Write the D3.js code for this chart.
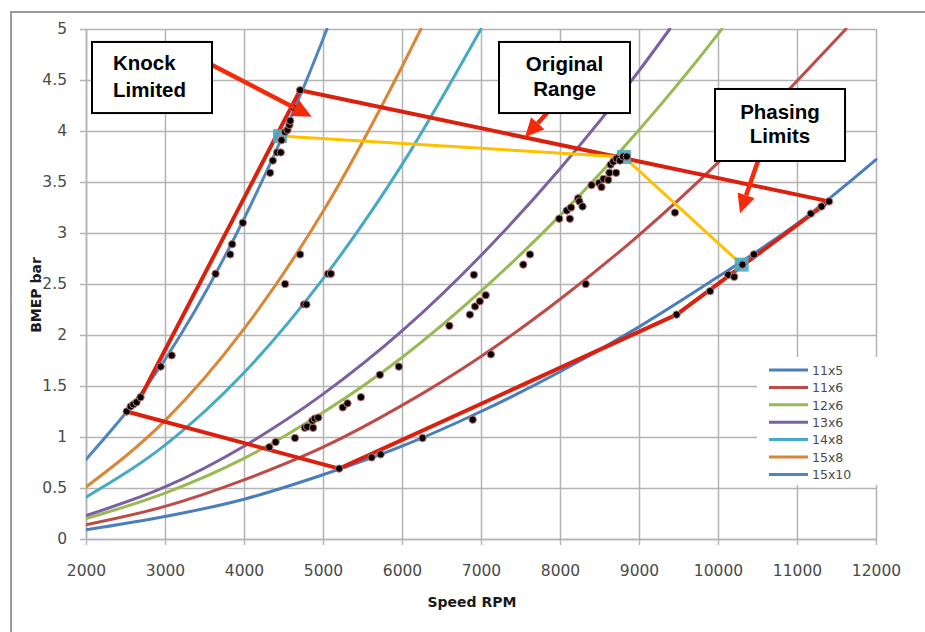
<!DOCTYPE html>
<html>
<head>
<meta charset="utf-8">
<script src="https://cdn.jsdelivr.net/npm/d3@7"></script>
<style>
  body { margin: 0; background: #fff; }
  svg { display: block; }
</style>
</head>
<body>
<svg id="chart" width="925" height="632"></svg>
<script>
// ---- Propeller load lines: BMEP (bar) vs engine speed (rpm) ----
const rpm11x5  = [2000, 3000, 4000, 5000, 6000, 7000, 8000, 9000, 10000, 11000, 12000];
const bmep11x5 = [0.09, 0.22, 0.39, 0.63, 0.91, 1.25, 1.64, 2.08, 2.57, 3.09, 3.72];

const rpm11x6  = [2000, 3000, 4000, 5000, 6000, 7000, 8000, 9000, 10000, 11000, 11620];
const bmep11x6 = [0.14, 0.32, 0.58, 0.90, 1.31, 1.79, 2.35, 2.98, 3.69, 4.49, 5.00];

const rpm12x6  = [2000, 3000, 4000, 5000, 6000, 7000, 8000, 9000, 10000, 10050];
const bmep12x6 = [0.20, 0.45, 0.79, 1.24, 1.78, 2.43, 3.17, 4.01, 4.95, 5.00];

const rpm13x6  = [2000, 3000, 4000, 5000, 6000, 7000, 8000, 9000, 9390];
const bmep13x6 = [0.23, 0.51, 0.91, 1.42, 2.04, 2.78, 3.63, 4.59, 5.00];

const rpm14x8  = [2000, 3000, 4000, 5000, 6000, 7000];
const bmep14x8 = [0.41, 0.92, 1.63, 2.55, 3.67, 5.00];

const rpm15x8  = [2000, 3000, 4000, 5000, 6000, 6240];
const bmep15x8 = [0.51, 1.16, 2.06, 3.21, 4.63, 5.00];

const rpm15x10  = [2000, 3000, 4000, 5000, 5050];
const bmep15x10 = [0.78, 1.76, 3.14, 4.90, 5.00];

const propNames = ["11x5", "11x6", "12x6", "13x6", "14x8", "15x8", "15x10"];

// ---- Measured operating points ----
const testRpm = [
  2515, 2565, 2600, 2640, 2690, 2945, 3085, 3640, 3825, 3850, 3985,
  4330, 4365, 4420, 4465, 4475, 4520, 4550, 4575, 4585, 4625, 4710,
  4520, 4710, 4760, 4790, 5065, 5100,
  4320, 4400, 4645, 4770, 4800, 4875, 4865, 4895, 4940, 5250, 5310, 5480, 5720, 5960,
  5205, 5615, 5730, 6260, 6895, 7125,
  6600, 6860, 6925, 6985, 7060, 6910, 7535, 7620, 8325,
  7990, 8125, 8085, 8140, 8230, 8245, 8285, 8400, 8495, 8525, 8550, 8610, 8625, 8710,
  8640, 8675, 8715, 8760, 8800, 8845,
  9455, 9475, 9900, 10130, 10205, 10310, 10455, 11175, 11310, 11405
];
const testBmep = [
  1.25, 1.30, 1.32, 1.34, 1.39, 1.69, 1.80, 2.60, 2.79, 2.89, 3.10,
  3.59, 3.71, 3.79, 3.79, 3.91, 3.99, 4.01, 4.06, 4.10, 4.23, 4.40,
  2.50, 2.79, 2.30, 2.30, 2.60, 2.60,
  0.90, 0.95, 0.99, 1.09, 1.10, 1.09, 1.16, 1.18, 1.19, 1.29, 1.33, 1.39, 1.61, 1.69,
  0.69, 0.80, 0.83, 0.99, 1.17, 1.81,
  2.09, 2.20, 2.28, 2.33, 2.39, 2.59, 2.69, 2.79, 2.50,
  3.14, 3.14, 3.22, 3.25, 3.34, 3.31, 3.26, 3.47, 3.49, 3.45, 3.53, 3.52, 3.59, 3.59,
  3.67, 3.70, 3.73, 3.71, 3.75, 3.75,
  3.20, 2.20, 2.43, 2.59, 2.57, 2.69, 2.79, 3.19, 3.26, 3.31
];

// ---- Operating envelope (red) and original range (yellow) ----
const envRpm  = [5205, 2515, 2690, 4710, 11405, 9475, 5205];
const envBmep = [0.69, 1.25, 1.39, 4.40, 3.31, 2.20, 0.69];

const origRpm  = [4455, 8810, 10300];
const origBmep = [3.95, 3.745, 2.69];

// ---- Axis ticks ----
const xTicks = [2000, 3000, 4000, 5000, 6000, 7000, 8000, 9000, 10000, 11000, 12000];
const yTicks = [0, 0.5, 1, 1.5, 2, 2.5, 3, 3.5, 4, 4.5, 5];

// ---- Callout text ----
const calloutLines = [["Knock", "Limited"], ["Original", "Range"], ["Phasing", "Limits"]];

// =====================================================================
const propColors = ["#4A7EBB", "#BE4B48", "#98B954", "#7D60A0", "#46AAC5", "#DB8636", "#4F86C2"];
const propSeries = [
  [rpm11x5, bmep11x5], [rpm11x6, bmep11x6], [rpm12x6, bmep12x6], [rpm13x6, bmep13x6],
  [rpm14x8, bmep14x8], [rpm15x8, bmep15x8], [rpm15x10, bmep15x10]
].map(([r, b], i) => ({
  name: propNames[i],
  color: propColors[i],
  points: r.map((v, j) => ({ rpm: v, bmep: b[j] }))
}));

const svg = d3.select("#chart");
const plotL = 86, plotR = 876, plotT = 29, plotB = 539;

const x = d3.scaleLinear().domain([2000, 12000]).range([plotL, plotR]);
const y = d3.scaleLinear().domain([0, 5]).range([plotB, plotT]);

// chart frame
svg.append("rect")
  .attr("x", 11).attr("y", 12).attr("width", 960).attr("height", 660)
  .attr("fill", "#fff").attr("stroke", "#9c9c9c").attr("stroke-width", 2);

const gridColor = "#b4b4b4";

// gridlines
const gridY = svg.append("g").attr("transform", `translate(${plotL},0)`)
  .call(d3.axisLeft(y).tickValues(yTicks).tickSize(-(plotR - plotL)).tickFormat(""));
const gridX = svg.append("g").attr("transform", `translate(0,${plotB})`)
  .call(d3.axisBottom(x).tickValues(xTicks).tickSize(-(plotB - plotT)).tickFormat(""));
[gridY, gridX].forEach(g => {
  g.select(".domain").remove();
  g.selectAll("line").attr("stroke", gridColor).attr("stroke-width", 1.5);
});

// axes with outward ticks and labels
const yAxis = svg.append("g").attr("transform", `translate(${plotL},0)`)
  .call(d3.axisLeft(y).tickValues(yTicks).tickSize(6).tickSizeOuter(0).tickPadding(13)
    .tickFormat(d => String(d)));
const xAxis = svg.append("g").attr("transform", `translate(0,${plotB})`)
  .call(d3.axisBottom(x).tickValues(xTicks).tickSize(6).tickSizeOuter(0).tickPadding(20)
    .tickFormat(d3.format("d")));
[yAxis, xAxis].forEach(g => {
  g.select(".domain").attr("stroke", gridColor).attr("stroke-width", 1.5);
  g.selectAll("line").attr("stroke", gridColor).attr("stroke-width", 1.5);
  g.selectAll("text")
    .attr("font-family", "DejaVu Sans, sans-serif")
    .attr("font-size", 15.5)
    .attr("fill", "#4a4a4a");
});

// axis titles
svg.append("text")
  .attr("x", 472).attr("y", 607)
  .attr("text-anchor", "middle")
  .attr("font-family", "DejaVu Sans, sans-serif").attr("font-weight", "bold")
  .attr("font-size", 14).attr("fill", "#1a1a1a")
  .text("Speed RPM");
svg.append("text")
  .attr("transform", "translate(41,295) rotate(-90)")
  .attr("text-anchor", "middle")
  .attr("font-family", "DejaVu Sans, sans-serif").attr("font-weight", "bold")
  .attr("font-size", 14).attr("fill", "#1a1a1a")
  .text("BMEP bar");

// clip curves to plot area
svg.append("clipPath").attr("id", "plot-clip")
  .append("rect").attr("x", plotL).attr("y", plotT - 1).attr("width", plotR - plotL + 2).attr("height", plotB - plotT + 2);

const line = d3.line()
  .x(d => x(d.rpm)).y(d => y(d.bmep))
  .curve(d3.curveMonotoneX);

const plot = svg.append("g").attr("clip-path", "url(#plot-clip)");

plot.selectAll("path.prop")
  .data(propSeries)
  .join("path")
  .attr("class", "prop")
  .attr("d", d => line(d.points))
  .attr("fill", "none")
  .attr("stroke", d => d.color)
  .attr("stroke-width", 3)
  .attr("stroke-linecap", "round");

// envelope polygon
const straight = d3.line().x(d => x(d.rpm)).y(d => y(d.bmep));
const envPts = envRpm.map((r, i) => ({ rpm: r, bmep: envBmep[i] }));
svg.append("path")
  .attr("d", straight(envPts))
  .attr("fill", "none")
  .attr("stroke", "#DA200E")
  .attr("stroke-width", 4)
  .attr("stroke-linejoin", "round");

// original operating range
const origPts = origRpm.map((r, i) => ({ rpm: r, bmep: origBmep[i] }));
svg.append("path")
  .attr("d", straight(origPts))
  .attr("fill", "none")
  .attr("stroke", "#FFC000")
  .attr("stroke-width", 3);
svg.selectAll("rect.orig")
  .data(origPts)
  .join("rect")
  .attr("class", "orig")
  .attr("x", d => x(d.rpm) - 7).attr("y", d => y(d.bmep) - 7)
  .attr("width", 14).attr("height", 14)
  .attr("fill", "#4BACC6").attr("fill-opacity", 0.9);

// measured points
const testPts = testRpm.map((r, i) => ({ rpm: r, bmep: testBmep[i] }));
svg.selectAll("circle.test")
  .data(testPts)
  .join("circle")
  .attr("class", "test")
  .attr("cx", d => x(d.rpm)).attr("cy", d => y(d.bmep))
  .attr("r", 3.7)
  .attr("fill", "#000")
  .attr("stroke", "#c97575").attr("stroke-width", 1);

// legend
const lg = svg.append("g");
lg.append("rect").attr("x", 757).attr("y", 357).attr("width", 128).attr("height", 128).attr("fill", "#fff");
propSeries.forEach((s, i) => {
  const ly = 370 + i * 17.4;
  lg.append("line")
    .attr("x1", 769).attr("x2", 808).attr("y1", ly).attr("y2", ly)
    .attr("stroke", s.color).attr("stroke-width", 3);
  lg.append("text")
    .attr("x", 812).attr("y", ly + 4.8)
    .attr("font-family", "DejaVu Sans, sans-serif").attr("font-size", 12.5)
    .attr("fill", "#4a4a4a")
    .text(s.name);
});

// callouts: box corners, text position and arrow in chart units
const callouts = [
  { box: [2076, 4.873, 3595, 4.176], text: [2342, 4.598, 4.336], anchor: "start",
    arrow: [3595, 4.647, 4857, 4.14] },
  { box: [7228, 4.873, 8886, 4.176], text: [8057, 4.591, 4.343], anchor: "middle",
    arrow: [7835, 4.176, 7557, 3.938] },
  { box: [9962, 4.412, 11608, 3.706], text: [10785, 4.115, 3.879], anchor: "middle",
    arrow: [10506, 3.706, 10278, 3.193] }
];
const arrowColor = "#F52A0A";
callouts.forEach((c, i) => {
  const g = svg.append("g");
  const [x0, y0, x1, y1] = [x(c.arrow[0]), y(c.arrow[1]), x(c.arrow[2]), y(c.arrow[3])];
  const ang = Math.atan2(y1 - y0, x1 - x0);
  const headLen = 19, headHalf = 9;
  const bx = x1 - headLen * Math.cos(ang), by = y1 - headLen * Math.sin(ang);
  g.append("line")
    .attr("x1", x0).attr("y1", y0).attr("x2", bx).attr("y2", by)
    .attr("stroke", arrowColor).attr("stroke-width", 4.5);
  const px = -Math.sin(ang), py = Math.cos(ang);
  g.append("path")
    .attr("d", `M${x1},${y1}L${bx + px * headHalf},${by + py * headHalf}L${bx - px * headHalf},${by - py * headHalf}Z`)
    .attr("fill", arrowColor);

  g.append("rect")
    .attr("x", x(c.box[0])).attr("y", y(c.box[1]))
    .attr("width", x(c.box[2]) - x(c.box[0])).attr("height", y(c.box[3]) - y(c.box[1]))
    .attr("fill", "#fff").attr("stroke", "#000").attr("stroke-width", 2);
  calloutLines[i].forEach((t, k) => {
    g.append("text")
      .attr("x", x(c.text[0])).attr("y", y(c.text[1 + k]))
      .attr("text-anchor", c.anchor)
      .attr("font-family", "Liberation Sans, Arial, sans-serif").attr("font-weight", "bold")
      .attr("font-size", 20.5).attr("fill", "#000")
      .text(t);
  });
});
</script>
</body>
</html>
